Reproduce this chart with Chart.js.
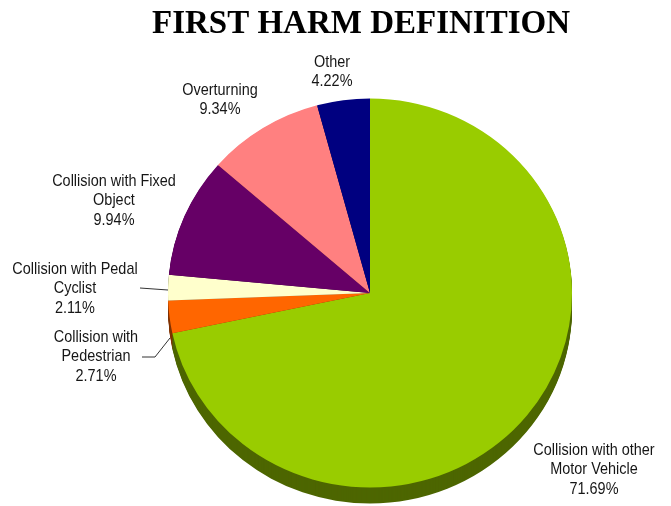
<!DOCTYPE html>
<html>
<head>
<meta charset="utf-8">
<script src="https://cdn.jsdelivr.net/npm/chart.js@4/dist/chart.umd.min.js"></script>
<style>
  html,body{margin:0;padding:0;background:#fff;}
  #wrap{width:671px;height:506px;position:relative;}
</style>
</head>
<body>
<div id="wrap"><canvas id="harmPie"></canvas></div>
<script>
// data
const categories = ['Collision with other Motor Vehicle','Collision with Pedestrian','Collision with Pedal Cyclist','Collision with Fixed Object','Overturning','Other'];
const shares = [71.69, 2.71, 2.11, 9.94, 9.34, 4.22];
const sliceColors = ['#99CC00','#FF6600','#FFFFCC','#660066','#FF8080','#000080'];

// label layout: wrapped lines, centre x, first line y, optional leader points
const labelLayout = [
  {lines:['Collision with other','Motor Vehicle'], x:594, y:450},
  {lines:['Collision with','Pedestrian'], x:96, y:337, leader:[[142,357],[155,357],[170,338]]},
  {lines:['Collision with Pedal','Cyclist'], x:75, y:269, leader:[[140,288],[168,290]]},
  {lines:['Collision with Fixed','Object'], x:114, y:181},
  {lines:['Overturning'], x:220, y:90},
  {lines:['Other'], x:332, y:62}
];

const DEPTH = 16, YSCALE = 0.963, NARROW = 0.85;
const labelFont = '17px "Liberation Sans", Arial, sans-serif';

function darker(hex){
  const n = parseInt(hex.slice(1),16);
  const r = (n>>16)&255, g=(n>>8)&255, b=n&255;
  return `rgb(${Math.round(r*0.5)},${Math.round(g*0.5)},${Math.round(b*0.5)})`;
}

const tilt = {
  id:'tilt',
  beforeDatasetsDraw(chart){
    const ctx = chart.ctx;
    const arcs = chart.getDatasetMeta(0).data;
    const {x:cx, y:cy} = arcs[0];
    ctx.save();
    ctx.translate(cx, cy); ctx.scale(1, YSCALE); ctx.translate(-cx, -cy);
    // side wall of the pie
    for(let d=DEPTH; d>=1; d--){
      arcs.forEach((a,i)=>{
        ctx.beginPath();
        ctx.moveTo(a.x, a.y+d/YSCALE);
        ctx.arc(a.x, a.y+d/YSCALE, a.outerRadius, a.startAngle, a.endAngle);
        ctx.closePath();
        ctx.fillStyle = darker(sliceColors[i]);
        ctx.fill();
      });
    }
  },
  afterDatasetsDraw(chart){
    const ctx = chart.ctx;
    ctx.restore();
    // leader lines
    ctx.save();
    ctx.strokeStyle = '#333';
    ctx.lineWidth = 1;
    labelLayout.forEach(l=>{
      if(!l.leader) return;
      ctx.beginPath();
      l.leader.forEach((p,k)=> k? ctx.lineTo(p[0],p[1]) : ctx.moveTo(p[0],p[1]));
      ctx.stroke();
    });
    // labels, narrowed like Arial Narrow
    ctx.font = labelFont;
    ctx.fillStyle = '#161616';
    ctx.textAlign = 'center';
    ctx.textBaseline = 'middle';
    labelLayout.forEach((l,i)=>{
      const lines = l.lines.concat([shares[i].toFixed(2)+'%']);
      lines.forEach((t,k)=>{
        ctx.save();
        ctx.translate(l.x, l.y + k*19.5);
        ctx.scale(NARROW, 1);
        ctx.fillText(t, 0, 0);
        ctx.restore();
      });
    });
    // title
    ctx.font = 'bold 33px "Liberation Serif", "DejaVu Serif", serif';
    ctx.fillStyle = '#000';
    ctx.textBaseline = 'alphabetic';
    ctx.fillText('FIRST HARM DEFINITION', 361, 33);
    ctx.restore();
  }
};

new Chart(document.getElementById('harmPie').getContext('2d'),{
  type:'pie',
  data:{
    labels:categories,
    datasets:[{data:shares,backgroundColor:sliceColors,borderWidth:0,hoverOffset:0}]
  },
  options:{
    responsive:true,maintainAspectRatio:false,animation:false,
    layout:{padding:{left:168,right:99,top:91,bottom:11}},
    plugins:{legend:{display:false},tooltip:{enabled:false},title:{display:false}}
  },
  plugins:[tilt]
});
</script>
</body>
</html>
